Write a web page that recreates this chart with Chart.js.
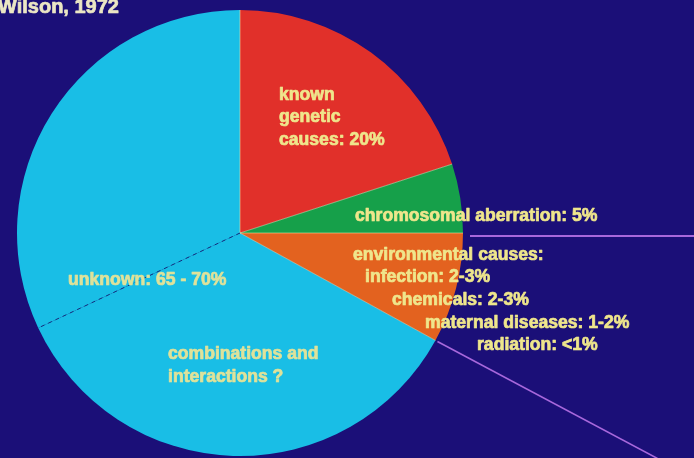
<!DOCTYPE html>
<html>
<head>
<meta charset="utf-8">
<script src="https://cdn.jsdelivr.net/npm/chart.js@4"></script>
<style>
  html, body { margin: 0; padding: 0; background: #1b0f78; }
  #wrap { width: 694px; height: 458px; position: relative; }
</style>
</head>
<body>
<div id="wrap"><canvas id="pieChart"></canvas></div>
<script>
// slices, clockwise from 12 o'clock
const categories = [
  "known genetic causes",
  "chromosomal aberration",
  "environmental causes",
  "combinations and interactions",
  "unknown"
];
const shares = [20, 5, 8, 35, 32];
const sliceColors = ["#e1302a", "#16a04a", "#e3621f", "#19bee6", "#19bee6"];

// text written on the slide: [text, x, y, color]
const labels = [
  ["known", 279, 95, "#efe68c"],
  ["genetic", 279, 117, "#efe68c"],
  ["causes: 20%", 279, 140, "#efe68c"],
  ["chromosomal aberration: 5%", 355, 216, "#efe68c"],
  ["environmental causes:", 353, 255, "#efe68c"],
  ["infection: 2-3%", 365, 277, "#efe68c"],
  ["chemicals: 2-3%", 392, 300, "#efe68c"],
  ["maternal diseases: 1-2%", 425, 323, "#efe68c"],
  ["radiation: <1%", 477, 345, "#efe68c"],
  ["unknown: 65 - 70%", 68, 280, "#dfe29a"],
  ["combinations and", 168, 354, "#dfe29a"],
  ["interactions ?", 168, 377, "#dfe29a"]
];

const ctx = document.getElementById("pieChart");

const slideExtras = {
  id: "slideExtras",
  afterDatasetsDraw(chart) {
    const c = chart.ctx;
    const arcs = chart.getDatasetMeta(0).data;
    const cx = arcs[0].x;
    const cy = arcs[0].y;
    const r = arcs[0].outerRadius;

    // slice separators
    arcs.forEach((arc, i) => {
      const a = arc.startAngle;
      c.save();
      c.beginPath();
      c.moveTo(cx, cy);
      c.lineTo(cx + Math.cos(a) * r, cy + Math.sin(a) * r);
      if (categories[i] === "unknown") {
        c.strokeStyle = "#15307e";
        c.setLineDash([4, 4]);
      } else {
        c.strokeStyle = "rgba(240, 230, 170, 0.55)";
      }
      c.lineWidth = 1;
      c.stroke();
      c.restore();
    });

    // leader lines going off the slide
    c.save();
    c.strokeStyle = "#a868dc";
    c.lineWidth = 2;
    c.beginPath();
    c.moveTo(cx + r + 7, cy + 3);
    c.lineTo(chart.width, cy + 3);
    c.stroke();
    const a = arcs[2].endAngle;
    const sx = cx + Math.cos(a) * r;
    const sy = cy + Math.sin(a) * r;
    c.lineWidth = 1.6;
    c.beginPath();
    c.moveTo(sx + 2, sy + 1);
    c.lineTo(sx + 2 + 220, sy + 1 + 117);
    c.stroke();
    c.restore();

    // text (stroked lightly so it reads as heavy as the slide lettering)
    c.save();
    c.textBaseline = "middle";
    c.textAlign = "left";
    c.lineJoin = "round";
    c.lineWidth = 0.7;
    c.font = "bold 17.6px 'Liberation Sans', Arial, sans-serif";
    labels.forEach(([t, x, y, col]) => {
      c.fillStyle = col;
      c.strokeStyle = col;
      c.fillText(t, x, y);
      c.strokeText(t, x, y);
    });
    c.font = "bold 20px 'Liberation Sans', Arial, sans-serif";
    c.textBaseline = "alphabetic";
    c.fillStyle = "#ebe6c4";
    c.strokeStyle = "#ebe6c4";
    c.fillText("Wilson, 1972", -2, 13);
    c.strokeText("Wilson, 1972", -2, 13);
    c.restore();
  }
};

new Chart(ctx, {
  type: "pie",
  data: {
    labels: categories,
    datasets: [
      {
        data: shares,
        backgroundColor: sliceColors,
        borderWidth: 0,
      },
    ],
  },
  options: {
    responsive: true,
    maintainAspectRatio: false,
    animation: false,
    layout: {
      padding: { left: 17, right: 231, top: 10, bottom: 2 },
    },
    plugins: {
      legend: { display: false },
      tooltip: { enabled: false },
    },
  },
  plugins: [slideExtras],
});
</script>
</body>
</html>
